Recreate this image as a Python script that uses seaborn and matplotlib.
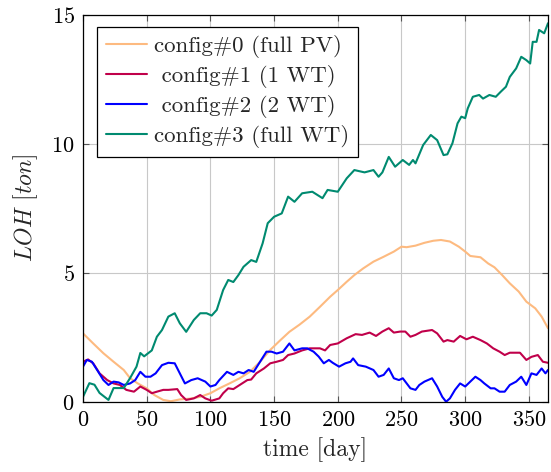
import pandas as pd
import matplotlib
matplotlib.use('Agg')
import matplotlib.pyplot as plt
import seaborn as sns

# values (day, LOH in ton)
days_c0 = [0, 8, 16, 24, 32, 37, 43, 50, 56, 63, 69, 76, 84, 92, 100, 107, 115, 123, 131, 139,
           147, 155, 162, 170, 178, 186, 194, 200, 207, 213, 220, 228, 236, 244, 250, 254, 261, 268, 275, 281,
           288, 295, 300, 304, 312, 318, 323, 329, 335, 342, 348, 355, 360, 365]
loh_c0 = [2.66, 2.27, 1.89, 1.56, 1.24, 0.92, 0.72, 0.53, 0.27, 0.08, 0.03, 0.1, 0.13, 0.2, 0.34, 0.53, 0.72, 0.92, 1.17, 1.56,
          2.02, 2.4, 2.72, 3.0, 3.31, 3.69, 4.08, 4.34, 4.66, 4.92, 5.18, 5.44, 5.63, 5.83, 6.02, 6.0, 6.06, 6.17, 6.25, 6.28,
          6.22, 6.02, 5.83, 5.66, 5.61, 5.37, 5.22, 4.92, 4.6, 4.28, 3.89, 3.63, 3.31, 2.86]

days_c1 = [0, 4, 8, 13, 19, 24, 29, 34, 40, 45, 50, 54, 58, 63, 67, 74, 77, 81, 87, 92,
           96, 101, 107, 110, 114, 118, 123, 129, 132, 136, 142, 147, 152, 157, 161, 166, 172, 178, 186, 190,
           194, 200, 207, 214, 219, 225, 230, 235, 240, 244, 249, 253, 257, 261, 266, 274, 278, 283, 286, 291,
           296, 301, 306, 312, 317, 322, 327, 331, 335, 343, 348, 352, 357, 361, 365]
loh_c1 = [1.56, 1.65, 1.5, 1.11, 0.85, 0.72, 0.66, 0.47, 0.4, 0.6, 0.47, 0.34, 0.4, 0.47, 0.47, 0.5, 0.27, 0.08, 0.14, 0.27,
          0.14, 0.05, 0.14, 0.34, 0.53, 0.5, 0.66, 0.85, 0.87, 1.11, 1.3, 1.5, 1.56, 1.63, 1.82, 1.88, 2.0, 2.08, 2.08, 2.0,
          2.21, 2.27, 2.47, 2.63, 2.6, 2.69, 2.56, 2.73, 2.86, 2.69, 2.73, 2.73, 2.53, 2.6, 2.73, 2.79, 2.66, 2.34, 2.4, 2.34,
          2.56, 2.43, 2.53, 2.4, 2.27, 2.08, 1.95, 1.82, 1.91, 1.91, 1.63, 1.75, 1.82, 1.56, 1.52]

days_c2 = [0, 3, 7, 12, 16, 20, 24, 28, 32, 37, 41, 45, 49, 53, 57, 62, 67, 72, 76, 80,
           85, 90, 96, 100, 104, 107, 113, 118, 122, 126, 130, 134, 139, 144, 148, 152, 157, 162, 166, 172,
           176, 181, 185, 189, 193, 196, 201, 206, 210, 212, 216, 222, 228, 232, 236, 240, 244, 248, 251, 257,
           261, 264, 268, 274, 278, 282, 285, 288, 292, 296, 300, 304, 308, 312, 315, 320, 323, 327, 331, 335,
           340, 344, 348, 352, 356, 360, 363, 365]
loh_c2 = [1.37, 1.63, 1.56, 1.17, 0.85, 0.66, 0.79, 0.76, 0.66, 0.72, 0.85, 1.17, 0.98, 0.98, 1.11, 1.43, 1.52, 1.5, 1.11, 0.72,
          0.85, 0.92, 0.79, 0.6, 0.66, 0.85, 1.17, 1.05, 1.17, 1.11, 1.24, 1.17, 1.56, 1.95, 1.95, 1.88, 1.95, 2.27, 2.0, 2.08,
          2.08, 1.95, 1.76, 1.5, 1.63, 1.52, 1.37, 1.5, 1.56, 1.69, 1.43, 1.37, 1.24, 0.98, 1.05, 1.3, 0.92, 0.85, 0.92, 0.53,
          0.47, 0.66, 0.79, 0.92, 0.6, 0.2, 0.01, 0.14, 0.47, 0.72, 0.6, 0.79, 0.98, 0.85, 0.72, 0.53, 0.53, 0.4, 0.4, 0.66,
          0.79, 0.98, 0.66, 1.11, 1.05, 1.3, 1.11, 1.24]

days_c3 = [0, 5, 9, 13, 20, 24, 32, 37, 42, 45, 48, 54, 58, 62, 67, 72, 76, 81, 87, 92,
           97, 101, 105, 110, 114, 118, 122, 126, 132, 136, 141, 145, 150, 156, 161, 166, 172, 180, 188, 192,
           200, 207, 213, 221, 228, 232, 235, 240, 245, 251, 256, 259, 261, 267, 273, 278, 283, 286, 290, 294,
           297, 300, 302, 306, 311, 314, 319, 324, 328, 332, 335, 340, 344, 348, 351, 353, 356, 358, 362, 365]
loh_c3 = [0.2, 0.73, 0.67, 0.35, 0.08, 0.54, 0.54, 0.93, 1.37, 1.9, 1.77, 2.0, 2.53, 2.79, 3.31, 3.44, 3.05, 2.72, 3.18, 3.44,
          3.44, 3.35, 3.57, 4.34, 4.73, 4.65, 4.92, 5.24, 5.5, 5.43, 6.15, 6.93, 7.18, 7.31, 7.96, 7.76, 8.09, 8.15, 7.9, 8.22,
          8.15, 8.67, 8.99, 8.9, 8.99, 8.73, 8.9, 9.5, 9.12, 9.38, 9.19, 9.38, 9.25, 9.96, 10.35, 10.15, 9.57, 9.6, 10.03, 10.8,
          11.06, 11.0, 11.38, 11.83, 11.9, 11.76, 11.9, 11.83, 12.03, 12.22, 12.6, 12.93, 13.38, 13.25, 13.12, 13.96, 13.96, 14.42, 14.29, 14.68]

labels = ['config#0 (full PV)', 'config#1 (1 WT)', 'config#2 (2 WT)', 'config#3 (full WT)']
colors = ['#FDBA80', '#C0004A', '#0000FF', '#008A70']

x_ticks = [0, 50, 100, 150, 200, 250, 300, 350]
y_ticks = [0, 5, 10, 15]

frames = []
for lab, d, v in zip(labels, [days_c0, days_c1, days_c2, days_c3], [loh_c0, loh_c1, loh_c2, loh_c3]):
    frames.append(pd.DataFrame({'day': d, 'LOH': v, 'config': lab}))
df = pd.concat(frames, ignore_index=True)

sns.set_theme(style='whitegrid')
plt.rcParams['font.family'] = ['cmr10', 'DejaVu Serif']
plt.rcParams['mathtext.fontset'] = 'cm'
plt.rcParams['axes.formatter.use_mathtext'] = True

fig = plt.figure(figsize=(5.51, 4.72), dpi=100)
ax = fig.add_axes([83 / 551, 70 / 472, 465 / 551, 387 / 472])

sns.lineplot(data=df, x='day', y='LOH', hue='config', palette=dict(zip(labels, colors)),
             linewidth=1.5, ax=ax, legend=True)

ax.set_xlim(0, 365)
ax.set_ylim(0, 15)
ax.set_xticks(x_ticks)
ax.set_yticks(y_ticks)
ax.grid(True, color='#c8c8c8', linewidth=0.8)
for s in ax.spines.values():
    s.set_edgecolor('black')
    s.set_linewidth(0.9)
ax.tick_params(direction='in', length=4, width=0.8, color='#555555', labelsize=16,
               top=True, right=True, bottom=True, left=True, pad=6, labelcolor='black')

ax.set_xlabel('time [day]', fontsize=17, labelpad=5)
ax.set_ylabel('$LOH$ [$ton$]', fontsize=17, labelpad=8)

# pgfplots centres the legend texts, approximate with a little padding
handles, _ = ax.get_legend_handles_labels()
shown = ['config#0 (full PV)', ' config#1 (1 WT)', ' config#2 (2 WT)', 'config#3 (full WT)']
leg = ax.legend(handles, shown, loc='upper left', bbox_to_anchor=(0.03, 0.97), borderaxespad=0,
                fontsize=16.5, frameon=True, fancybox=False, edgecolor='black', framealpha=1,
                handlelength=1.8, borderpad=0.38, labelspacing=0.3, handletextpad=0.3)
leg.get_frame().set_linewidth(0.9)

plt.savefig('out.png', dpi=100)
